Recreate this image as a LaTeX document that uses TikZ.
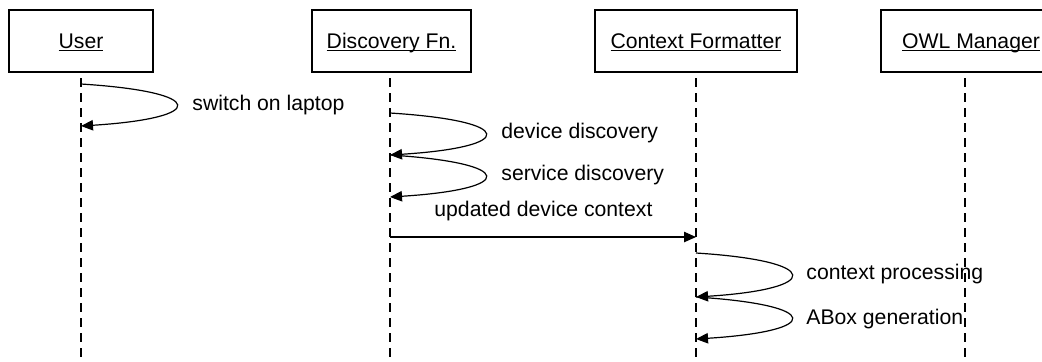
\documentclass[tikz,border=0pt]{standalone}
\usepackage{fontspec}
\setmainfont{Liberation Sans}
\usetikzlibrary{arrows.meta}
\newcommand{\objname}[1]{\underline{\smash{#1}}}
\begin{document}
\begin{tikzpicture}[x=0.5pt,y=-0.5pt,font=\fontsize{10.6}{12.5}\selectfont,
	objbox/.style={draw,line width=0.6pt,minimum height=31pt,inner sep=0pt,text height=10pt,text depth=3pt},
	lifeline/.style={line width=0.6pt,dash pattern=on 4.5pt off 3pt},
	msg/.style={line width=0.6pt,-{Triangle[width=5.2pt,length=6pt]}},
	msglabel/.style={anchor=west,inner sep=0pt}]% boxes and lifelines
	\useasboundingbox (0,0) rectangle (1042,361);
	\node[objbox,minimum width=72pt] (user) at (81,41) {\objname{User}};
	\node[objbox,minimum width=79.5pt] (disc) at (391.5,41) {\objname{Discovery Fn.}};
	\node[objbox,minimum width=101pt] (ctx) at (696,41) {\objname{Context Formatter}};
	\node[objbox,minimum width=90pt] (owl) at (971,41) {\objname{OWL Manager}};
	\coordinate (user-top) at (81,78);   \coordinate (user-bot) at (81,361);
	\coordinate (disc-top) at (390,78);  \coordinate (disc-bot) at (390,361);
	\coordinate (ctx-top) at (696,78);   \coordinate (ctx-bot) at (696,361);
	\coordinate (owl-top) at (965,78);   \coordinate (owl-bot) at (965,361);
	\draw[lifeline] (user-top) -- (user-bot);
	\draw[lifeline] (disc-top) -- (disc-bot);
	\draw[lifeline] (ctx-top) -- (ctx-bot);
	\draw[lifeline] (owl-top) -- (owl-bot);
	% self messages
	\coordinate (u1) at (81,84);   \coordinate (u2) at (81,126);
	\coordinate (d1) at (390,113); \coordinate (d2) at (390,155); \coordinate (d3) at (390,197);
	\coordinate (c1) at (696,253); \coordinate (c2) at (696,297); \coordinate (c3) at (696,339);
	\draw[msg] (u1) .. controls (208,92) and (208,118) .. (u2);
	\draw[msg] (d1) .. controls (517,121) and (517,147) .. (d2);
	\draw[msg] (d2) .. controls (517,163) and (517,189) .. (d3);
	\draw[msg] (c1) .. controls (823,261) and (823,289) .. (c2);
	\draw[msg] (c2) .. controls (823,305) and (823,331) .. (c3);
	\node[msglabel] (l-switch) at (192,105) {switch on laptop};
	\node[msglabel] (l-device) at (501,133) {device discovery};
	\node[msglabel] (l-service) at (501,175) {service discovery};
	\node[msglabel] (l-process) at (806,274) {context processing};
	\node[msglabel] (l-abox) at (806,319) {ABox generation};
	% message to formatter
	\coordinate (m1) at (390,237); \coordinate (m2) at (696,237);
	\draw[msg] (m1) -- (m2);
	\node[msglabel] (l-update) at (434,211) {updated device context};
\end{tikzpicture}
\end{document}
